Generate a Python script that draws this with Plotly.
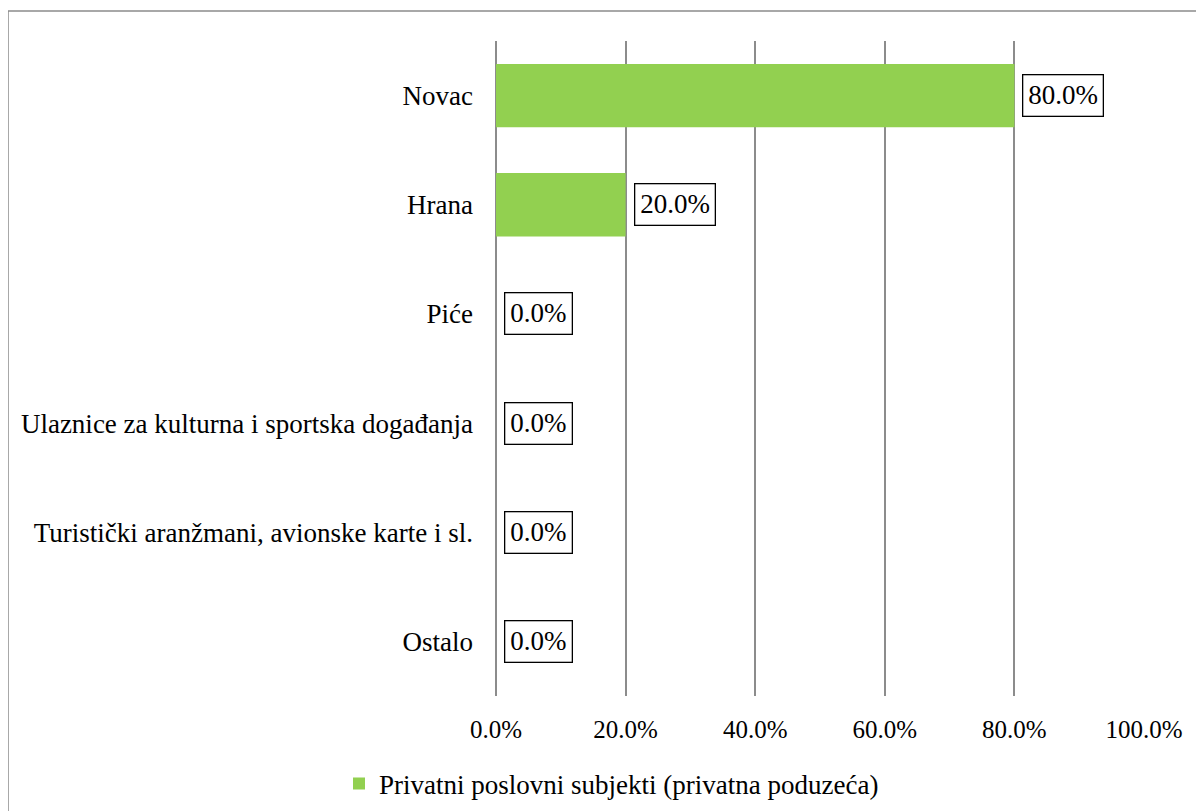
import plotly.graph_objects as go

categories = ["Novac", "Hrana", "Piće", "Ulaznice za kulturna i sportska događanja",
              "Turistički aranžmani, avionske karte i sl.", "Ostalo"]
values = [80.0, 20.0, 0.0, 0.0, 0.0, 0.0]
series_name = "Privatni poslovni subjekti (privatna poduzeća)"
tick_vals = [0, 20, 40, 60, 80, 100]
tick_text = ["0.0%", "20.0%", "40.0%", "60.0%", "80.0%", "100.0%"]

OFF = 8  # page body margin
W, H = 1204 - OFF, 811 - OFF
# desired page coordinates -> figure coordinates
L, R, T, B = 496 - OFF, 1144 - OFF, 41 - OFF, 696 - OFF
FONT = "Liberation Serif, Times New Roman, serif"
FS = 27

fig = go.Figure()
fig.add_trace(go.Bar(
    y=categories, x=values, orientation="h", name=series_name,
    marker=dict(color="#92D050", line=dict(width=0)),
    showlegend=True,
))

for c, v in zip(categories, values):
    fig.add_annotation(
        x=v, y=c, xref="x", yref="y", text=f"{v:.1f}%",
        showarrow=False, xanchor="left", xshift=8,
        bordercolor="black", borderwidth=1.3, borderpad=5, bgcolor="white",
        font=dict(family=FONT, size=FS, color="black"),
    )

pw, ph = R - L, B - T
fig.add_shape(type="rect", xref="paper", yref="paper",
              x0=(8 - OFF - L) / pw, x1=(1220 - OFF - L) / pw,
              y0=(B - (830 - OFF)) / ph, y1=(B - (11 - OFF)) / ph,
              line=dict(color="#8c8c8c", width=1.5), layer="below")

fig.update_layout(
    width=W, height=H,
    margin=dict(l=L, r=W - R, t=T, b=H - B, autoexpand=False),
    paper_bgcolor="white", plot_bgcolor="white",
    font=dict(family=FONT, size=FS, color="black"),
    bargap=0.42,
    xaxis=dict(range=[0, 100], tickvals=tick_vals, ticktext=tick_text,
               tickfont=dict(family=FONT, size=25), automargin=False,
               showgrid=True, gridcolor="#8c8c8c", gridwidth=1.5,
               zeroline=True, zerolinecolor="#8c8c8c", zerolinewidth=1.5,
               showline=False, ticks="", ticklabelstandoff=16, fixedrange=True),
    yaxis=dict(categoryorder="array", categoryarray=categories, autorange="reversed",
               automargin=False,
               showgrid=False, showline=False, zeroline=False, ticks="",
               ticklabelstandoff=22),
    legend=dict(orientation="h", xref="container", yref="container",
                x=(339 - OFF) / W, xanchor="left",
                y=1 - (784 - OFF) / H, yanchor="middle",
                font=dict(family=FONT, size=FS), itemwidth=30),
)

fig.write_html("out.html")
